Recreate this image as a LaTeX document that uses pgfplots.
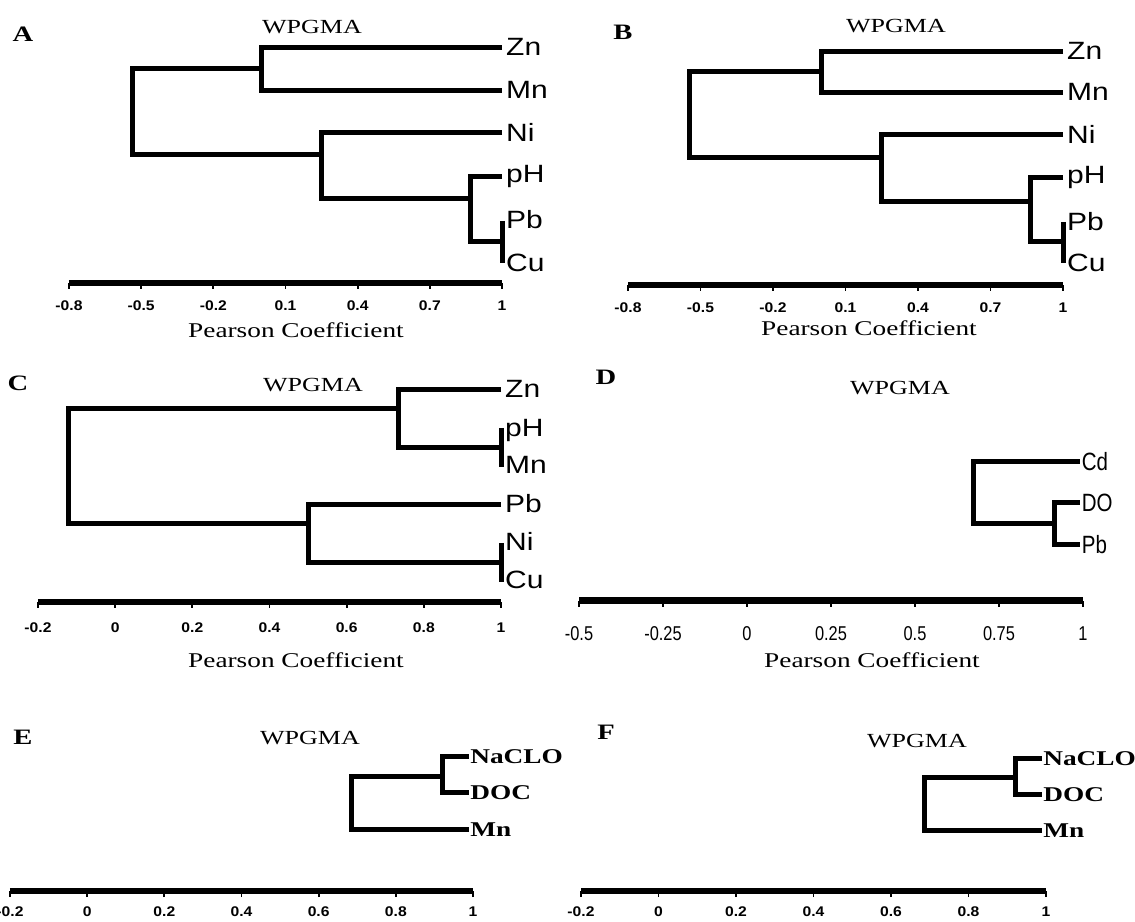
\documentclass[border=0pt]{standalone}
\usepackage{pgfplots}
\pgfplotsset{compat=1.18}
\usepackage{fontspec}
\setmainfont{Liberation Serif}
\newfontfamily\sanswide{Liberation Sans}[FakeStretch=1.2]
\newfontfamily\sansnarrow{Liberation Sans}[FakeStretch=0.82]
\newfontfamily\serifwide{Liberation Serif}[FakeStretch=1.3]
\newfontfamily\sanstick{Liberation Sans}[FakeStretch=1.12]
\newcommand\fs[1]{\fontsize{#1}{#1}\selectfont}

% 1 pt in the picture = 1 px of the reference
\pgfplotsset{
  dendro/.style={
    scale only axis, anchor=south west,
    axis y line=none, axis x line*=bottom,
    x axis line style={line width=6pt, -},
    ymin=0, clip=false,
    tick align=outside, major tick length=6pt,
    xtick style={line width=1.8pt, black},
    xticklabel style={font=\sanstick\bfseries\fs{14}, yshift=-8pt},
    every axis plot post/.append style={line width=5pt, black, mark=none, line join=miter},
  },
}
\tikzset{
  leaf/.style={anchor=west, inner sep=4pt, font=\sanswide\fs{25}},
  leafn/.style={anchor=west, inner sep=2pt, font=\sansnarrow\fs{25}},
  leafb/.style={anchor=west, inner sep=1pt, font=\serifwide\bfseries\fs{21}},
}

\begin{document}
\begin{tikzpicture}
\useasboundingbox (0,0) rectangle (1135pt,921pt);

% ---- A ----
\begin{axis}[dendro, at={(69pt,638pt)}, width=433pt, height=250pt,
  xmin=-0.8, xmax=1, ymax=250,
  xtick={-0.8,-0.5,-0.2,0.1,0.4,0.7,1},
  xticklabels={-0.8,-0.5,-0.2,0.1,0.4,0.7,1}]
\addplot coordinates {(1,235) (0,235) (0,192) (1,192)};
\addplot coordinates {(1,62) (1,20)};
\addplot coordinates {(1,106) (0.87,106) (0.87,41) (1,41)};
\addplot coordinates {(1,150) (0.25,150) (0.25,84) (0.87,84)};
\addplot coordinates {(0,214) (-0.535,214) (-0.535,128) (0.25,128)};
\node[leaf] at (axis cs:1,236) {Zn};
\node[leaf] at (axis cs:1,193) {Mn};
\node[leaf] at (axis cs:1,151) {Ni};
\node[leaf] at (axis cs:1,106) {pH};
\node[leaf] at (axis cs:1,63) {Pb};
\node[leaf] at (axis cs:1,20) {Cu};
\end{axis}

% ---- B ----
\begin{axis}[dendro, at={(628pt,636pt)}, width=435pt, height=250pt,
  xmin=-0.8, xmax=1, ymax=250,
  xtick={-0.8,-0.5,-0.2,0.1,0.4,0.7,1},
  xticklabels={-0.8,-0.5,-0.2,0.1,0.4,0.7,1}]
\addplot coordinates {(1,233) (0,233) (0,192) (1,192)};
\addplot coordinates {(1,63) (1,22)};
\addplot coordinates {(1,107) (0.864,107) (0.864,43) (1,43)};
\addplot coordinates {(1,150) (0.25,150) (0.25,83) (0.864,83)};
\addplot coordinates {(0,213) (-0.544,213) (-0.544,127) (0.25,127)};
\node[leaf] at (axis cs:1,234) {Zn};
\node[leaf] at (axis cs:1,193) {Mn};
\node[leaf] at (axis cs:1,151) {Ni};
\node[leaf] at (axis cs:1,107) {pH};
\node[leaf] at (axis cs:1,63) {Pb};
\node[leaf] at (axis cs:1,22) {Cu};
\end{axis}

% ---- C ----
\begin{axis}[dendro, at={(38pt,319pt)}, width=463pt, height=230pt,
  xmin=-0.2, xmax=1, ymax=230,
  xticklabel style={yshift=-3pt},
  xtick={-0.2,0,0.2,0.4,0.6,0.8,1},
  xticklabels={-0.2,0,0.2,0.4,0.6,0.8,1}]
\addplot coordinates {(1,174) (1,135)};
\addplot coordinates {(1,212) (0.735,212) (0.735,154) (1,154)};
\addplot coordinates {(1,59) (1,20)};
\addplot coordinates {(1,97) (0.50,97) (0.50,39) (1,39)};
\addplot coordinates {(0.735,193) (-0.122,193) (-0.122,78) (0.50,78)};
\node[leaf] at (axis cs:1,213) {Zn};
\node[leaf] at (axis cs:1,172) {pH};
\node[leaf] at (axis cs:1,137) {Mn};
\node[leaf] at (axis cs:1,98) {Pb};
\node[leaf] at (axis cs:1,61) {Ni};
\node[leaf] at (axis cs:1,22) {Cu};
\end{axis}

% ---- D ----
\begin{axis}[dendro, at={(579pt,320pt)}, width=504pt, height=230pt,
  xmin=-0.5, xmax=1, ymax=230,
  x axis line style={line width=7pt, -},
  xtick={-0.5,-0.25,0,0.25,0.5,0.75,1},
  xticklabels={-0.5,-0.25,0,0.25,0.5,0.75,1},
  xticklabel style={font=\sansnarrow\mdseries\fs{20}, yshift=-8pt}]
\addplot coordinates {(0.99,98) (0.914,98) (0.914,56) (0.99,56)};
\addplot coordinates {(0.99,139) (0.673,139) (0.673,77) (0.914,77)};
\node[leafn] at (axis cs:0.99,139) {Cd};
\node[leafn] at (axis cs:0.99,98) {DO};
\node[leafn] at (axis cs:0.99,56) {Pb};
\end{axis}

% ---- E ----
\begin{axis}[dendro, at={(10pt,30pt)}, width=463pt, height=150pt,
  xmin=-0.2, xmax=1, ymax=150,
  xticklabel style={inner sep=1pt, yshift=-1pt},
  xtick={-0.2,0,0.2,0.4,0.6,0.8,1},
  xticklabels={-0.2,0,0.2,0.4,0.6,0.8,1}]
\addplot coordinates {(0.99,134) (0.92,134) (0.92,98) (0.99,98)};
\addplot coordinates {(0.92,114) (0.684,114) (0.684,61) (0.99,61)};
\node[leafb] at (axis cs:0.99,134) {NaCLO};
\node[leafb] at (axis cs:0.99,98) {DOC};
\node[leafb] at (axis cs:0.99,61) {Mn};
\end{axis}

% ---- F ----
\begin{axis}[dendro, at={(581pt,30pt)}, width=465pt, height=150pt,
  xmin=-0.2, xmax=1, ymax=150,
  xticklabel style={inner sep=1pt, yshift=-1pt},
  xtick={-0.2,0,0.2,0.4,0.6,0.8,1},
  xticklabels={-0.2,0,0.2,0.4,0.6,0.8,1}]
\addplot coordinates {(0.99,132) (0.92,132) (0.92,96) (0.99,96)};
\addplot coordinates {(0.92,113) (0.686,113) (0.686,60) (0.99,60)};
\node[leafb] at (axis cs:0.99,132) {NaCLO};
\node[leafb] at (axis cs:0.99,96) {DOC};
\node[leafb] at (axis cs:0.99,60) {Mn};
\end{axis}

% panel letters, titles, axis titles
\begin{scope}[every node/.style={inner sep=0pt}]
\node[font=\serifwide\bfseries\fs{22}] at (23pt,887pt) {A};
\node[font=\serifwide\bfseries\fs{22}] at (623pt,889pt) {B};
\node[font=\serifwide\bfseries\fs{22}] at (18pt,538pt) {C};
\node[font=\serifwide\bfseries\fs{22}] at (606pt,544pt) {D};
\node[font=\serifwide\bfseries\fs{22}] at (23pt,184pt) {E};
\node[font=\serifwide\bfseries\fs{22}] at (606pt,189pt) {F};
\node[font=\serifwide\fs{20}] at (312pt,894pt) {WPGMA};
\node[font=\serifwide\fs{20}] at (896pt,895pt) {WPGMA};
\node[font=\serifwide\fs{20}] at (313pt,536pt) {WPGMA};
\node[font=\serifwide\fs{20}] at (900pt,533pt) {WPGMA};
\node[font=\serifwide\fs{20}] at (310pt,183pt) {WPGMA};
\node[font=\serifwide\fs{20}] at (917pt,180pt) {WPGMA};
\node[font=\serifwide\fs{21}] at (296pt,591pt) {Pearson Coefficient};
\node[font=\serifwide\fs{21}] at (869pt,593pt) {Pearson Coefficient};
\node[font=\serifwide\fs{21}] at (296pt,261pt) {Pearson Coefficient};
\node[font=\serifwide\fs{21}] at (872pt,261pt) {Pearson Coefficient};
\end{scope}
\end{tikzpicture}
\end{document}
